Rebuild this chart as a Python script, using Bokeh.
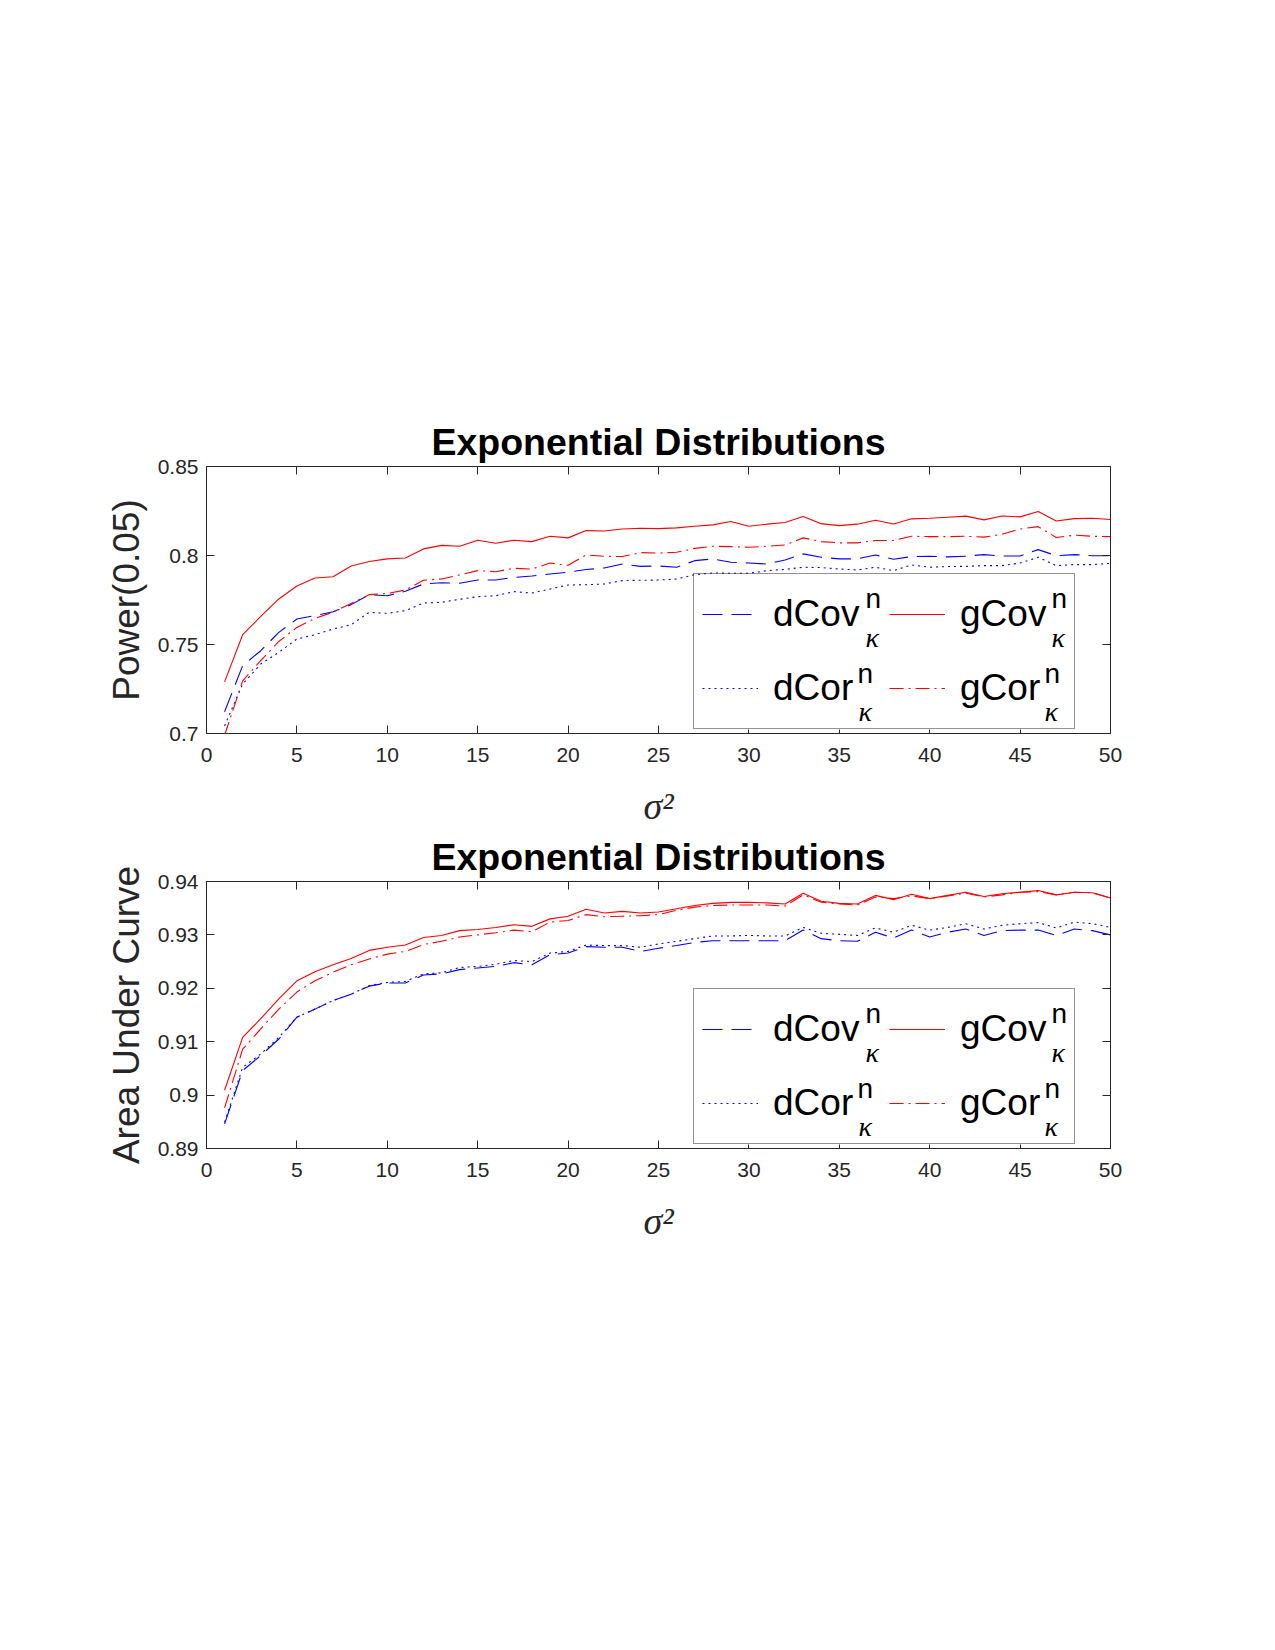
from bokeh.plotting import figure
from bokeh.models import (Range1d, FixedTicker, LinearAxis, Legend, LegendItem,
                          Label, BoxAnnotation, ColumnDataSource)
from bokeh.layouts import column
from bokeh.embed import file_html
from bokeh.resources import INLINE

# ---------------- data ----------------
sigma2 = list(range(1, 51))

power_dcov = [0.7122, 0.7381, 0.7465, 0.7568, 0.7643, 0.7662, 0.7684, 0.7724, 0.7780, 0.7774,
              0.7799, 0.7840, 0.7847, 0.7844, 0.7862, 0.7862, 0.7877, 0.7885, 0.7896, 0.7906,
              0.7921, 0.7930, 0.7952, 0.7939, 0.7941, 0.7934, 0.7971, 0.7981, 0.7962, 0.7958,
              0.7952, 0.7975, 0.8009, 0.7990, 0.7981, 0.7981, 0.8003, 0.7979, 0.7994, 0.7996,
              0.7992, 0.7996, 0.8005, 0.7997, 0.7997, 0.8033, 0.7999, 0.8005, 0.7999, 0.7999]
power_dcor = [0.7043, 0.7278, 0.7390, 0.7456, 0.7531, 0.7555, 0.7587, 0.7611, 0.7681, 0.7675,
              0.7690, 0.7733, 0.7737, 0.7754, 0.7769, 0.7774, 0.7797, 0.7789, 0.7812, 0.7834,
              0.7836, 0.7840, 0.7859, 0.7861, 0.7862, 0.7868, 0.7892, 0.7902, 0.7900, 0.7900,
              0.7915, 0.7922, 0.7934, 0.7932, 0.7924, 0.7919, 0.7934, 0.7915, 0.7947, 0.7934,
              0.7938, 0.7939, 0.7943, 0.7943, 0.7958, 0.7990, 0.7943, 0.7949, 0.7949, 0.7956]
power_gcov = [0.7290, 0.7555, 0.7658, 0.7756, 0.7829, 0.7874, 0.7881, 0.7941, 0.7966, 0.7981,
              0.7986, 0.8037, 0.8057, 0.8052, 0.8086, 0.8069, 0.8086, 0.8078, 0.8108, 0.8099,
              0.8140, 0.8138, 0.8149, 0.8153, 0.8151, 0.8155, 0.8164, 0.8172, 0.8191, 0.8164,
              0.8176, 0.8185, 0.8219, 0.8179, 0.8168, 0.8176, 0.8198, 0.8177, 0.8206, 0.8209,
              0.8215, 0.8221, 0.8200, 0.8222, 0.8217, 0.8247, 0.8194, 0.8207, 0.8209, 0.8202]
power_gcor = [0.6990, 0.7296, 0.7409, 0.7517, 0.7596, 0.7647, 0.7682, 0.7731, 0.7780, 0.7787,
              0.7806, 0.7861, 0.7868, 0.7891, 0.7915, 0.7909, 0.7928, 0.7924, 0.7958, 0.7945,
              0.8003, 0.7996, 0.7994, 0.8016, 0.8014, 0.8018, 0.8040, 0.8052, 0.8050, 0.8046,
              0.8052, 0.8059, 0.8099, 0.8078, 0.8071, 0.8071, 0.8084, 0.8084, 0.8108, 0.8106,
              0.8106, 0.8108, 0.8103, 0.8119, 0.8149, 0.8162, 0.8101, 0.8114, 0.8108, 0.8106]

auc_dcov = [0.8946, 0.9046, 0.9074, 0.9105, 0.9146, 0.9161, 0.9177, 0.9189, 0.9204, 0.9210,
            0.9210, 0.9225, 0.9227, 0.9235, 0.9238, 0.9241, 0.9248, 0.9244, 0.9263, 0.9266,
            0.9278, 0.9277, 0.9277, 0.9269, 0.9275, 0.9280, 0.9286, 0.9289, 0.9289, 0.9289,
            0.9289, 0.9289, 0.9309, 0.9293, 0.9289, 0.9288, 0.9305, 0.9294, 0.9309, 0.9296,
            0.9305, 0.9311, 0.9299, 0.9308, 0.9309, 0.9309, 0.9299, 0.9311, 0.9308, 0.9300]
auc_dcor = [0.8949, 0.9052, 0.9077, 0.9108, 0.9146, 0.9161, 0.9177, 0.9189, 0.9205, 0.9211,
            0.9213, 0.9227, 0.9229, 0.9239, 0.9241, 0.9245, 0.9252, 0.9250, 0.9266, 0.9269,
            0.9281, 0.9280, 0.9280, 0.9277, 0.9283, 0.9288, 0.9293, 0.9298, 0.9298, 0.9299,
            0.9298, 0.9298, 0.9314, 0.9303, 0.9301, 0.9299, 0.9313, 0.9305, 0.9318, 0.9309,
            0.9314, 0.9321, 0.9311, 0.9318, 0.9321, 0.9323, 0.9313, 0.9324, 0.9321, 0.9314]
auc_gcov = [0.9009, 0.9108, 0.9143, 0.9180, 0.9214, 0.9231, 0.9244, 0.9256, 0.9271, 0.9277,
            0.9281, 0.9295, 0.9299, 0.9308, 0.9310, 0.9314, 0.9319, 0.9316, 0.9330, 0.9335,
            0.9348, 0.9341, 0.9344, 0.9341, 0.9343, 0.9349, 0.9355, 0.9359, 0.9361, 0.9361,
            0.9360, 0.9358, 0.9378, 0.9363, 0.9359, 0.9358, 0.9374, 0.9366, 0.9376, 0.9368,
            0.9374, 0.9380, 0.9372, 0.9377, 0.9380, 0.9383, 0.9375, 0.9380, 0.9379, 0.9369]
auc_gcor = [0.8976, 0.9086, 0.9124, 0.9161, 0.9193, 0.9214, 0.9230, 0.9244, 0.9255, 0.9264,
            0.9269, 0.9282, 0.9288, 0.9296, 0.9300, 0.9304, 0.9309, 0.9306, 0.9324, 0.9327,
            0.9338, 0.9334, 0.9335, 0.9336, 0.9338, 0.9346, 0.9352, 0.9355, 0.9356, 0.9356,
            0.9356, 0.9354, 0.9375, 0.9361, 0.9358, 0.9356, 0.9371, 0.9368, 0.9373, 0.9368,
            0.9373, 0.9378, 0.9371, 0.9375, 0.9380, 0.9381, 0.9375, 0.9380, 0.9379, 0.9369]

x_ticks = [0, 5, 10, 15, 20, 25, 30, 35, 40, 45, 50]
power_ticks = [0.7, 0.75, 0.8, 0.85]
power_tick_labels = ["0.7", "0.75", "0.8", "0.85"]
auc_ticks = [0.89, 0.9, 0.91, 0.92, 0.93, 0.94]
auc_tick_labels = ["0.89", "0.9", "0.91", "0.92", "0.93", "0.94"]

series_names = ["dCov", "gCov", "dCor", "gCor"]
title_text = "Exponential Distributions"
x_label = "σ²"
legend_sup = "n"
legend_sub = "κ"

# ---------------- styling ----------------
DARK = "#262626"
FONT = "Liberation Sans"
BLUE = "#0000ff"
RED = "#ff0000"
styles = {
    "dCov": dict(color=BLUE, dash="20 9"),
    "gCov": dict(color=RED, dash="solid"),
    "dCor": dict(color=BLUE, dash="2 4"),
    "gCor": dict(color=RED, dash="14 5 2 5"),
}

FRAME_W, FRAME_H = 904, 267


def style_axis(ax, ticks, labels=None, show=True):
    ax.ticker = FixedTicker(ticks=ticks)
    ax.major_tick_in = 8
    ax.major_tick_out = 0
    ax.minor_tick_line_color = None
    ax.axis_line_color = DARK
    ax.major_tick_line_color = DARK
    ax.major_label_text_font = FONT
    if show:
        ax.major_label_text_color = DARK
        ax.major_label_text_font_size = "21px"
        if labels is not None:
            ax.major_label_overrides = {t: l for t, l in zip(ticks, labels)}
    else:
        ax.major_label_text_color = None
        ax.major_label_text_font_size = "1px"
        ax.major_label_standoff = 0


def make_panel(values, yticks, ylabels, yrange, ylabel_text, top_border):
    p = figure(frame_width=FRAME_W, frame_height=FRAME_H,
               x_range=Range1d(0, 50), y_range=Range1d(*yrange),
               output_backend="svg", toolbar_location=None,
               min_border_left=206, min_border_right=165,
               min_border_top=top_border, min_border_bottom=96,
               background_fill_color="white", border_fill_color="white",
               outline_line_color=DARK)
    p.title.text = title_text
    p.title.text_font = FONT
    p.title.text_font_style = "bold"
    p.title.text_font_size = "37.5px"
    p.title.text_color = "black"
    p.title.align = "center"
    p.title.standoff = 7
    p.grid.visible = False

    style_axis(p.xaxis[0], x_ticks, [str(t) for t in x_ticks])
    p.xaxis[0].major_label_standoff = 14
    p.xaxis[0].axis_label = x_label
    p.xaxis[0].axis_label_text_font = "Liberation Serif"
    p.xaxis[0].axis_label_text_font_style = "italic"
    p.xaxis[0].axis_label_text_font_size = "38px"
    p.xaxis[0].axis_label_text_color = DARK
    p.xaxis[0].axis_label_standoff = 20

    style_axis(p.yaxis[0], yticks, ylabels)
    p.yaxis[0].major_label_standoff = 8
    p.yaxis[0].axis_label = ylabel_text
    p.yaxis[0].axis_label_text_font = FONT
    p.yaxis[0].axis_label_text_font_style = "normal"
    p.yaxis[0].axis_label_text_font_size = "37px"
    p.yaxis[0].axis_label_text_color = DARK
    p.yaxis[0].axis_label_standoff = 8

    top_ax = LinearAxis()
    style_axis(top_ax, x_ticks, show=False)
    p.add_layout(top_ax, "above")
    right_ax = LinearAxis()
    style_axis(right_ax, yticks, show=False)
    p.add_layout(right_ax, "right")

    src = ColumnDataSource(dict(x=sigma2, **{n: v for n, v in zip(series_names, values)}))
    renderers = {}
    for n in series_names:
        st = styles[n]
        renderers[n] = p.line("x", n, source=src, line_color=st["color"],
                              line_dash=st["dash"], line_width=1.1)

    leg_x, leg_y, leg_w, leg_h = 487, 4, 380, 154
    # opaque white box behind the (transparent) legend
    p.add_layout(BoxAnnotation(left=leg_x, right=leg_x + leg_w, bottom=leg_y, top=leg_y + leg_h,
                               left_units="screen", right_units="screen",
                               bottom_units="screen", top_units="screen",
                               fill_color="white", fill_alpha=1.0, line_color=None,
                               level="annotation"))

    items = [LegendItem(label=n, renderers=[renderers[n]]) for n in series_names]
    legend = Legend(items=items, location=(leg_x, leg_y), orientation="horizontal",
                    ncols=2, glyph_width=56, glyph_height=20, label_standoff=15,
                    label_width=106, label_height=64, spacing=10, padding=8,
                    label_text_font=FONT, label_text_font_size="37px",
                    label_text_color="black",
                    border_line_color=DARK, border_line_width=1,
                    background_fill_color="white", background_fill_alpha=0.0)
    p.add_layout(legend, "center")

    # superscript n / subscript kappa next to each legend entry (offsets from legend corner)
    sup_offsets = [(172, 131, 172, 92), (358, 131, 358, 92),
                   (164, 56, 165, 18), (351, 56, 351, 18)]
    for sx, sy, kx, ky in sup_offsets:
        p.add_layout(Label(x=leg_x + sx, y=leg_y + sy, x_units="screen", y_units="screen",
                           text=legend_sup, text_font=FONT, text_font_size="28px",
                           text_color="black", text_baseline="alphabetic",
                           level="overlay"))
        p.add_layout(Label(x=leg_x + kx, y=leg_y + ky, x_units="screen", y_units="screen",
                           text=legend_sub, text_font="Liberation Serif",
                           text_font_style="italic",
                           text_font_size="28px", text_color="black",
                           text_baseline="alphabetic", level="overlay"))
    return p


p1 = make_panel([power_dcov, power_gcov, power_dcor, power_gcor],
                power_ticks, power_tick_labels, (0.7, 0.85), "Power(0.05)", 466)
p2 = make_panel([auc_dcov, auc_gcov, auc_dcor, auc_gcor],
                auc_ticks, auc_tick_labels, (0.89, 0.94), "Area Under Curve", 52)

layout = column(p1, p2, spacing=0)
open("out.html", "w").write(file_html(layout, INLINE, title="Exponential Distributions"))
